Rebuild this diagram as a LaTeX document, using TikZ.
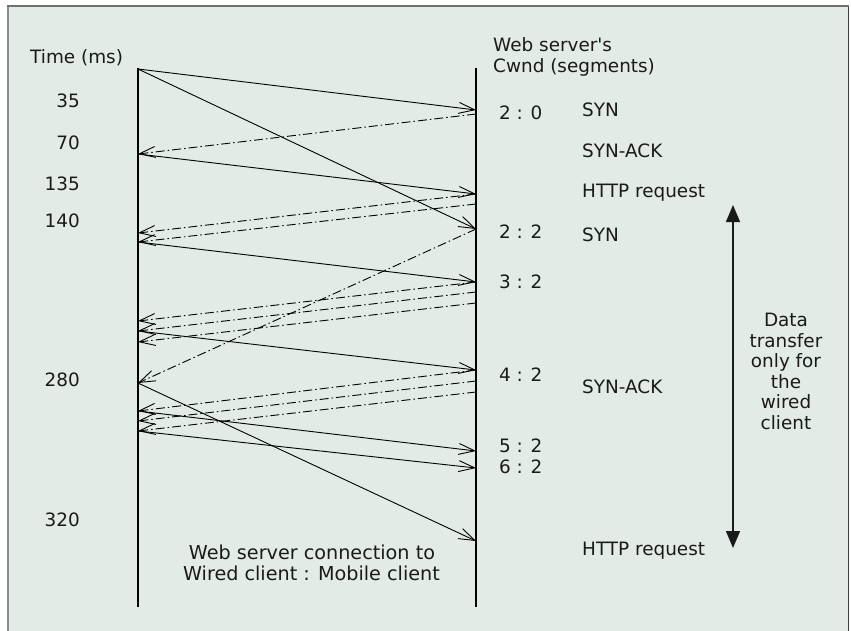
\documentclass[tikz,border=0pt]{standalone}
\usepackage{fontspec}
\setmainfont{DejaVu Sans}
% a family without TeX quote mapping, so ' stays a straight apostrophe
\newfontfamily\labelfont{DejaVu Sans}[Ligatures=ResetAll]
\usetikzlibrary{arrows.meta}
\definecolor{panel}{HTML}{E2EBE6}
\definecolor{ink}{HTML}{1A1A1A}
\definecolor{rimtop}{HTML}{707070}
\definecolor{rimleft}{HTML}{8C8C8C}
\definecolor{rimright}{HTML}{3A3A3A}
\tikzset{
  lbl/.style={font=\labelfont\fontsize{18.4}{21}\selectfont, text=ink, inner sep=0pt},
  biglbl/.style={font=\labelfont\fontsize{19.2}{21}\selectfont, text=ink, inner sep=0pt},
  lifeline/.style={line width=1.3pt, draw=black},
  msg/.style={line width=0.9pt, draw=black, -{Straight Barb[length=16pt,width=11pt]}},
  ack/.style={msg, dash pattern=on 9pt off 3pt on 1.5pt off 3pt},
  span/.style={line width=1.4pt, draw=ink,
    {Triangle[length=17pt,width=14pt]}-{Triangle[length=17pt,width=14pt]}},
}
\begin{document}
\begin{tikzpicture}[x=1pt,y=-1pt]
\useasboundingbox (0,0) rectangle (851,631);
% panel and its rim
\fill[white] (0,0) rectangle (851,631);
\fill[panel] (8,6) rectangle (849,640);
\draw[rimleft, line width=1.2pt] (8,6) -- (8,640);
\draw[rimright, line width=1.6pt] (848.5,6) -- (848.5,640);
\draw[rimtop, line width=2pt] (7.4,6) -- (849.3,6);

% lifelines: web server connection side (left) and server side (right)
\coordinate (wtop) at (138,68);
\coordinate (wbot) at (138,607);
\coordinate (stop) at (476,68);
\coordinate (sbot) at (476,607);
\draw[lifeline] (wtop) -- (wbot);
\draw[lifeline] (stop) -- (sbot);

% event points on the left line
\coordinate (l0)  at (138,69);
\coordinate (l1)  at (138,154);
\coordinate (l2)  at (138,233);
\coordinate (l3)  at (138,242);
\coordinate (l4)  at (138,321);
\coordinate (l5)  at (138,331);
\coordinate (l6)  at (138,342);
\coordinate (l7)  at (138,383);
\coordinate (l8)  at (138,411);
\coordinate (l9)  at (138,421);
\coordinate (l10) at (138,431);

% event points on the right line
\coordinate (r1)  at (476,110);
\coordinate (r1b) at (476,114);
\coordinate (r2)  at (476,194);
\coordinate (r2b) at (476,204);
\coordinate (r3)  at (476,229);
\coordinate (r4)  at (476,282);
\coordinate (r4b) at (476,292);
\coordinate (r4c) at (476,303);
\coordinate (r5)  at (476,370);
\coordinate (r5b) at (476,381);
\coordinate (r5c) at (476,392);
\coordinate (r6)  at (476,451);
\coordinate (r7)  at (476,468);
\coordinate (r8)  at (476,541);

% requests and data towards the server
\draw[msg] (l0) -- (r1);
\draw[msg] (l0) -- (r3);
\draw[msg] (l1) -- (r2);
\draw[msg] (l3) -- (r4);
\draw[msg] (l5) -- (r5);
\draw[msg] (l8) -- (r6);
\draw[msg] (l10) -- (r7);
\draw[msg] (l7) -- (r8);

% replies and acknowledgements back
\draw[ack] (r1b) -- (l1);
\draw[ack] (r2) -- (l2);
\draw[ack] (r2b) -- (l3);
\draw[ack] (r3) -- (l7);
\draw[ack] (r4) -- (l4);
\draw[ack] (r4b) -- (l5);
\draw[ack] (r4c) -- (l6);
\draw[ack] (r5) -- (l8);
\draw[ack] (r5b) -- (l9);
\draw[ack] (r5c) -- (l10);

% time axis labels
\node[lbl, anchor=base west] (time) at (30,63.5) {Time (ms)};
\node[lbl, anchor=base east] (t35)  at (80,108) {35};
\node[lbl, anchor=base east] (t70)  at (80,150) {70};
\node[lbl, anchor=base east] (t135) at (80,191) {135};
\node[lbl, anchor=base east] (t140) at (80,228) {140};
\node[lbl, anchor=base east] (t280) at (80,386) {280};
\node[lbl, anchor=base east] (t320) at (80,526) {320};

% server window header and values
\node[lbl, anchor=base west] (hd1) at (493,52) {Web server's};
\node[lbl, anchor=base west] (hd2) at (493,73) {Cwnd (segments)};
\node[lbl, anchor=base west] (c20) at (499,119.5) {2 : 0};
\node[lbl, anchor=base west] (c22) at (499,238.5) {2 : 2};
\node[lbl, anchor=base west] (c32) at (499,288.5) {3 : 2};
\node[lbl, anchor=base west] (c42) at (499,381) {4 : 2};
\node[lbl, anchor=base west] (c52) at (499,452) {5 : 2};
\node[lbl, anchor=base west] (c62) at (499,473) {6 : 2};

% packet types
\node[lbl, anchor=base west] (p1) at (582,117) {SYN};
\node[lbl, anchor=base west] (p2) at (582,157.5) {SYN-ACK};
\node[lbl, anchor=base west] (p3) at (582,197.5) {HTTP request};
\node[lbl, anchor=base west] (p4) at (582,241) {SYN};
\node[lbl, anchor=base west] (p5) at (582,393) {SYN-ACK};
\node[lbl, anchor=base west] (p6) at (582,555) {HTTP request};

% span of the wired-only transfer
\coordinate (spantop) at (733,205);
\coordinate (spanbot) at (733,548);
\draw[span] (spantop) -- (spanbot);
\foreach \t [count=\i] in {Data,transfer,only for,the,wired,client}
  \node[lbl, anchor=base] (dt\i) at (786,326.7+20.5*\i-20.5) {\t};

% legend under the exchange
\node[biglbl, anchor=base] (leg1) at (312,559.3) {Web server connection to};
\node[biglbl, anchor=base] (leg2) at (311.5,580.7) {Wired client : Mobile client};
\end{tikzpicture}
\end{document}
